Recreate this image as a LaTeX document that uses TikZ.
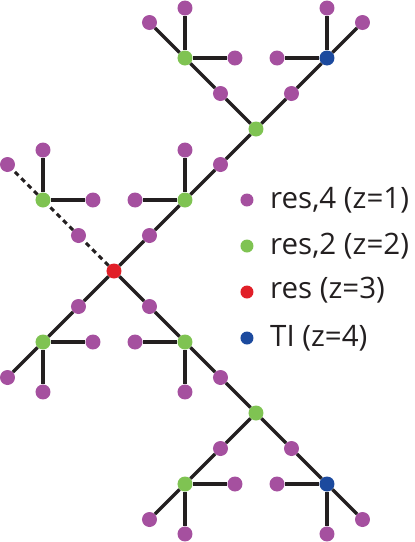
\documentclass[tikz,border=0pt]{standalone}
\usepackage{fontspec}
\setmainfont{Open Sans}
\definecolor{pur}{HTML}{A5509F}
\definecolor{grn}{HTML}{7FC352}
\definecolor{rd}{HTML}{E11F28}
\definecolor{blu}{HTML}{1C4A9E}
\definecolor{ink}{HTML}{231F20}
\begin{document}
\begin{tikzpicture}[x=71pt, y=71pt,
    pu/.style={circle, fill=pur, minimum size=15pt, inner sep=0pt},
    gr/.style={circle, fill=grn, minimum size=15pt, inner sep=0pt},
    re/.style={circle, fill=rd, minimum size=15pt, inner sep=0pt},
    bl/.style={circle, fill=blu, minimum size=15pt, inner sep=0pt},
    bond/.style={draw=ink, line width=3.2pt},
    dbond/.style={draw=ink, line width=3pt, dash pattern=on 5pt off 4pt},
    legdot/.style={circle, minimum size=13pt, inner sep=0pt},
    legtext/.style={anchor=base west, inner sep=0pt, text=ink, font=\fontsize{29.5}{36}\selectfont}]
    \useasboundingbox (-114pt,-271pt) rectangle (301pt,271pt);

    % 中心と枝の点
    \node[re] (R) at (0, 0) {};
    \node[gr] (G1) at (1, 3) {};
    \node[bl] (B1) at (3, 3) {};
    \node[gr] (G2) at (2, 2) {};
    \node[gr] (G3) at (1, 1) {};
    \node[gr] (G4) at (-1, 1) {};
    \node[gr] (G5) at (-1, -1) {};
    \node[gr] (G6) at (1, -1) {};
    \node[gr] (G7) at (2, -2) {};
    \node[gr] (G8) at (1, -3) {};
    \node[bl] (B2) at (3, -3) {};

    % 間の点
    \node[pu] (m12) at (1.5, 2.5) {};
    \node[pu] (mB1) at (2.5, 2.5) {};
    \node[pu] (m23) at (1.5, 1.5) {};
    \node[pu] (m3R) at (0.5, 0.5) {};
    \node[pu] (m4R) at (-0.5, 0.5) {};
    \node[pu] (m5R) at (-0.5, -0.5) {};
    \node[pu] (m6R) at (0.5, -0.5) {};
    \node[pu] (m67) at (1.5, -1.5) {};
    \node[pu] (m78) at (1.5, -2.5) {};
    \node[pu] (m7B) at (2.5, -2.5) {};

    % 端の点
    \node[pu] (G1t) at (1, 3.704) {};
    \node[pu] (G1r) at (1.704, 3) {};
    \node[pu] (G1d) at (0.5, 3.5) {};
    \node[pu] (B1t) at (3, 3.704) {};
    \node[pu] (B1l) at (2.296, 3) {};
    \node[pu] (B1d) at (3.5, 3.5) {};
    \node[pu] (G3t) at (1, 1.704) {};
    \node[pu] (G3l) at (0.296, 1) {};
    \node[pu] (G4t) at (-1, 1.704) {};
    \node[pu] (G4r) at (-0.296, 1) {};
    \node[pu] (G4d) at (-1.5, 1.5) {};
    \node[pu] (G5r) at (-0.296, -1) {};
    \node[pu] (G5b) at (-1, -1.704) {};
    \node[pu] (G5d) at (-1.5, -1.5) {};
    \node[pu] (G6l) at (0.296, -1) {};
    \node[pu] (G6b) at (1, -1.704) {};
    \node[pu] (G8r) at (1.704, -3) {};
    \node[pu] (G8b) at (1, -3.704) {};
    \node[pu] (G8d) at (0.5, -3.5) {};
    \node[pu] (B2l) at (2.296, -3) {};
    \node[pu] (B2b) at (3, -3.704) {};
    \node[pu] (B2d) at (3.5, -3.5) {};

    % 線を引く
    \draw[bond] (G1) -- (m12);
    \draw[bond] (m12) -- (G2);
    \draw[bond] (B1) -- (mB1);
    \draw[bond] (mB1) -- (G2);
    \draw[bond] (G2) -- (m23);
    \draw[bond] (m23) -- (G3);
    \draw[bond] (G3) -- (m3R);
    \draw[bond] (m3R) -- (R);
    \draw[dbond] (R) -- (m4R);
    \draw[dbond] (m4R) -- (G4);
    \draw[dbond] (G4) -- (G4d);
    \draw[bond] (R) -- (m5R);
    \draw[bond] (m5R) -- (G5);
    \draw[bond] (R) -- (m6R);
    \draw[bond] (m6R) -- (G6);
    \draw[bond] (G6) -- (m67);
    \draw[bond] (m67) -- (G7);
    \draw[bond] (G7) -- (m78);
    \draw[bond] (m78) -- (G8);
    \draw[bond] (G7) -- (m7B);
    \draw[bond] (m7B) -- (B2);

    \draw[bond] (G1) -- (G1t);
    \draw[bond] (G1) -- (G1r);
    \draw[bond] (G1) -- (G1d);
    \draw[bond] (B1) -- (B1t);
    \draw[bond] (B1) -- (B1l);
    \draw[bond] (B1) -- (B1d);
    \draw[bond] (G3) -- (G3t);
    \draw[bond] (G3) -- (G3l);
    \draw[bond] (G4) -- (G4t);
    \draw[bond] (G4) -- (G4r);
    \draw[bond] (G5) -- (G5r);
    \draw[bond] (G5) -- (G5b);
    \draw[bond] (G5) -- (G5d);
    \draw[bond] (G6) -- (G6l);
    \draw[bond] (G6) -- (G6b);
    \draw[bond] (G8) -- (G8r);
    \draw[bond] (G8) -- (G8b);
    \draw[bond] (G8) -- (G8d);
    \draw[bond] (B2) -- (B2l);
    \draw[bond] (B2) -- (B2b);
    \draw[bond] (B2) -- (B2d);

    % 凡例
    \node[legdot, fill=pur] (L1) at (1.873, 1.0) {};
    \node[legdot, fill=grn] (L2) at (1.873, 0.352) {};
    \node[legdot, fill=rd] (L3) at (1.873, -0.296) {};
    \node[legdot, fill=blu] (L4) at (1.873, -0.944) {};
    \node[legtext] (T1) at (2.197, 0.887) {res,4 (z=1)};
    \node[legtext] (T2) at (2.197, 0.239) {res,2 (z=2)};
    \node[legtext] (T3) at (2.197, -0.394) {res (z=3)};
    \node[legtext] (T4) at (2.197, -1.070) {TI (z=4)};

  \end{tikzpicture}
\end{document}
